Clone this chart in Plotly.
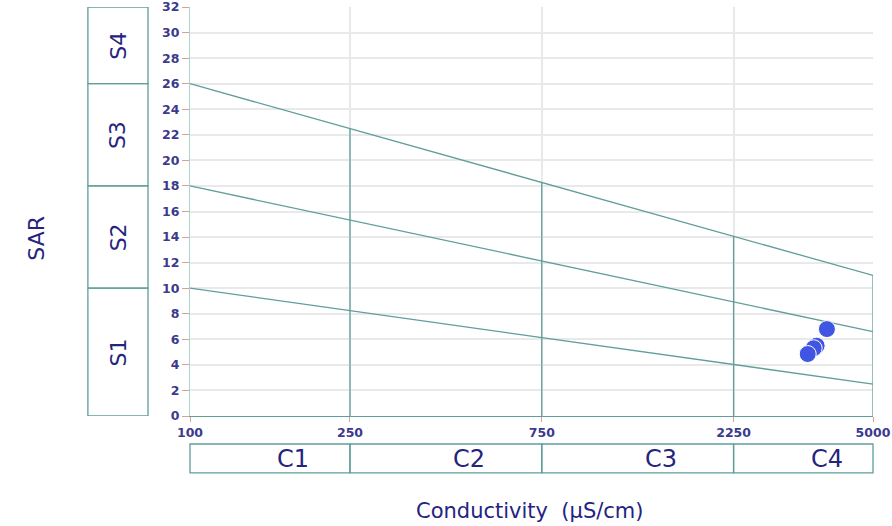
import plotly.graph_objects as go
import math

# Salinity hazard class boundaries (EC, µS/cm) and sodium hazard boundary lines (SAR)
ec_ticks = [100, 250, 750, 2250, 5000]
ec_ends = [100, 5000]
sar_s1_s2 = [10, 2.5]
sar_s2_s3 = [18, 6.6]
sar_s3_s4 = [26, 11]
ec_dividers = [250, 750, 2250, 5000]
divider_tops = [22.5, 18.3, 14.1, 11]

c_labels = ["C1", "C2", "C3", "C4"]
s_labels = ["S1", "S2", "S3", "S4"]
s_bounds = [0, 10, 18, 26, 32]

# Water samples
sample_ec = [3840, 3620, 3560, 3440]
sample_sar = [6.8, 5.5, 5.3, 4.85]

line_col = "#5f9e9a"
text_col = "#25237f"
tick_col = "#3b3a8c"

LOG_MIN, LOG_MAX = 2.0, math.log10(5000)


def ec_to_paper(v):
    return (math.log10(v) - LOG_MIN) / (LOG_MAX - LOG_MIN)


fig = go.Figure()

for ys in (sar_s1_s2, sar_s2_s3, sar_s3_s4):
    fig.add_trace(go.Scatter(x=ec_ends, y=ys, mode="lines",
                             line=dict(color=line_col, width=1.3),
                             hoverinfo="skip", showlegend=False))

for ec, top in zip(ec_dividers, divider_tops):
    fig.add_trace(go.Scatter(x=[ec, ec], y=[0, top], mode="lines",
                             line=dict(color=line_col, width=1.3),
                             hoverinfo="skip", showlegend=False))

fig.add_trace(go.Scatter(x=sample_ec, y=sample_sar, mode="markers",
                         marker=dict(size=17, color="#4055e2",
                                     line=dict(color="white", width=1)),
                         showlegend=False))

shapes = []
annotations = []
label_family = "DejaVu Sans, Verdana, sans-serif"

# Sodium hazard boxes on the left
for i, lab in enumerate(s_labels):
    y0, y1 = s_bounds[i], s_bounds[i + 1]
    shapes.append(dict(type="rect", xref="paper", yref="y",
                       x0=-0.1495, x1=-0.0615, y0=y0, y1=y1,
                       line=dict(color=line_col, width=1.3)))
    annotations.append(dict(xref="paper", yref="y", x=-0.105, y=(y0 + y1) / 2,
                            xanchor="center", yanchor="middle",
                            text=lab, showarrow=False, textangle=-90,
                            font=dict(family=label_family, size=22,
                                      color=text_col)))

# Salinity hazard boxes below the axis
for i, lab in enumerate(c_labels):
    x0, x1 = ec_to_paper(ec_ticks[i]), ec_to_paper(ec_ticks[i + 1])
    shapes.append(dict(type="rect", xref="paper", yref="paper",
                       x0=x0, x1=x1, y0=-0.139, y1=-0.0685,
                       line=dict(color=line_col, width=1.3)))
    annotations.append(dict(xref="paper", yref="paper",
                            x=(x0 + x1) / 2 + 0.034, y=-0.104,
                            xanchor="center", yanchor="middle",
                            text=lab, showarrow=False,
                            font=dict(family=label_family, size=24,
                                      color=text_col)))

annotations.append(dict(xref="paper", yref="paper", x=-0.226, y=0.435,
                        xanchor="center", yanchor="middle",
                        text="SAR", showarrow=False, textangle=-90,
                        font=dict(family=label_family, size=22,
                                  color=text_col)))
annotations.append(dict(xref="paper", yref="paper", x=0.498, y=-0.232,
                        xanchor="center", yanchor="middle",
                        text="Conductivity  (µS/cm)", showarrow=False,
                        font=dict(family=label_family, size=21,
                                  color=text_col)))

tick_font = dict(family="DejaVu Sans", size=12.5, color=tick_col, weight="bold")

fig.update_layout(
    width=892, height=526,
    margin=dict(l=190, r=19, t=7, b=110),
    paper_bgcolor="white", plot_bgcolor="white",
    shapes=shapes, annotations=annotations,
    xaxis=dict(type="log", range=[LOG_MIN, LOG_MAX], automargin=False,
               tickvals=ec_ticks, ticktext=[str(v) for v in ec_ticks],
               showgrid=True, gridcolor="#e9e9e9", gridwidth=1.5,
               showline=True, linecolor=line_col, linewidth=1.3,
               ticks="outside", ticklen=5, tickcolor="#e39a9a",
               ticklabeloverflow="allow",
               tickfont=tick_font, zeroline=False),
    yaxis=dict(range=[0, 32], dtick=2, tick0=0, automargin=False,
               showgrid=True, gridcolor="#e9e9e9", gridwidth=1.5,
               showline=True, linecolor="#a8d4d0", linewidth=1.3,
               ticks="outside", ticklen=7, tickcolor="#e39a9a",
               ticklabeloverflow="allow",
               tickfont=tick_font, zeroline=False),
)

fig.write_html("out.html")
